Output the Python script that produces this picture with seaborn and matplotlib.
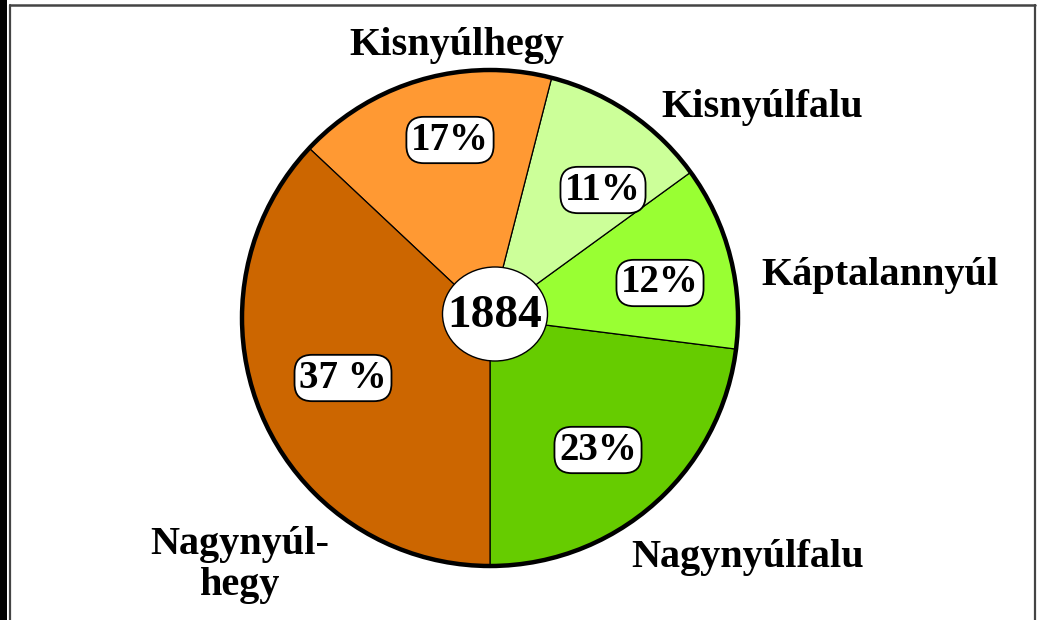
import matplotlib
matplotlib.use("Agg")
import numpy as np
import seaborn as sns
import matplotlib.pyplot as plt
from matplotlib.patches import Circle, Ellipse, Rectangle

# data
villages = ["Nagynyúlfalu", "Káptalannyúl", "Kisnyúlfalu", "Kisnyúlhegy", "Nagynyúl-\nhegy"]
shares = [23, 12, 11, 17, 37]
pct_labels = ["23%", "12%", "11%", "17%", "37 %"]
year = "1884"
slice_colors = ["#66CC00", "#99FF33", "#CCFF99", "#FF9933", "#CC6600"]

sns.set_theme(style="white")
plt.rcParams["font.family"] = ["Liberation Serif", "DejaVu Serif"]
plt.rcParams["text.color"] = "black"

W, H = 1038, 620
fig = plt.figure(figsize=(W / 100, H / 100), dpi=100)
ax = fig.add_axes([0, 0, 1, 1])

cx, cy, r = 490, 302, 248
wedges, _ = ax.pie(
    shares, colors=sns.color_palette(slice_colors), startangle=270,
    counterclock=True, radius=r, center=(cx, cy), frame=True,
    wedgeprops=dict(edgecolor="black", linewidth=0.9),
)
ax.set_xlim(0, W)
ax.set_ylim(0, H)
ax.set_aspect("equal")
ax.axis("off")
ax.add_patch(Circle((cx, cy), r, fill=False, edgecolor="black", linewidth=3.2, zorder=3))

# centre disc with the year
ax.add_patch(Ellipse((495, 306), 105, 94, facecolor="white", edgecolor="black", linewidth=1.0, zorder=4))
ax.text(495, 304, year, ha="center", va="center", fontsize=34, fontweight="bold",
        color="black", zorder=5)

# percentage boxes
pct_pos = [(598, 170), (660, 337), (603, 430), (450, 480), (343, 242)]
for (x, y), t in zip(pct_pos, pct_labels):
    ax.text(x, y, t, ha="center", va="center", fontsize=28, fontweight="bold",
            color="black", zorder=5,
            bbox=dict(boxstyle="round,pad=0.12,rounding_size=0.45", facecolor="white",
                      edgecolor="black", linewidth=1.3))

# village names outside the pie
name_pos = [(748, 63), (880, 345), (762, 513), (457, 575), (240, 55)]
for (x, y), t in zip(name_pos, villages):
    ax.text(x, y, t, ha="center", va="center", fontsize=29, fontweight="bold",
            color="black", linespacing=1.12, multialignment="center", zorder=5)

# frame around the figure
ax.add_patch(Rectangle((0, 0), 7, H, facecolor="black", edgecolor="none", zorder=6))
ax.plot([9.5, 9.5], [0, 615], color="#444444", linewidth=1.6, zorder=6)
ax.plot([9.5, 1035], [615, 615], color="#444444", linewidth=1.8, zorder=6)
ax.plot([1035, 1035], [0, 615], color="#444444", linewidth=1.6, zorder=6)

fig.savefig("out.png", dpi=100)
